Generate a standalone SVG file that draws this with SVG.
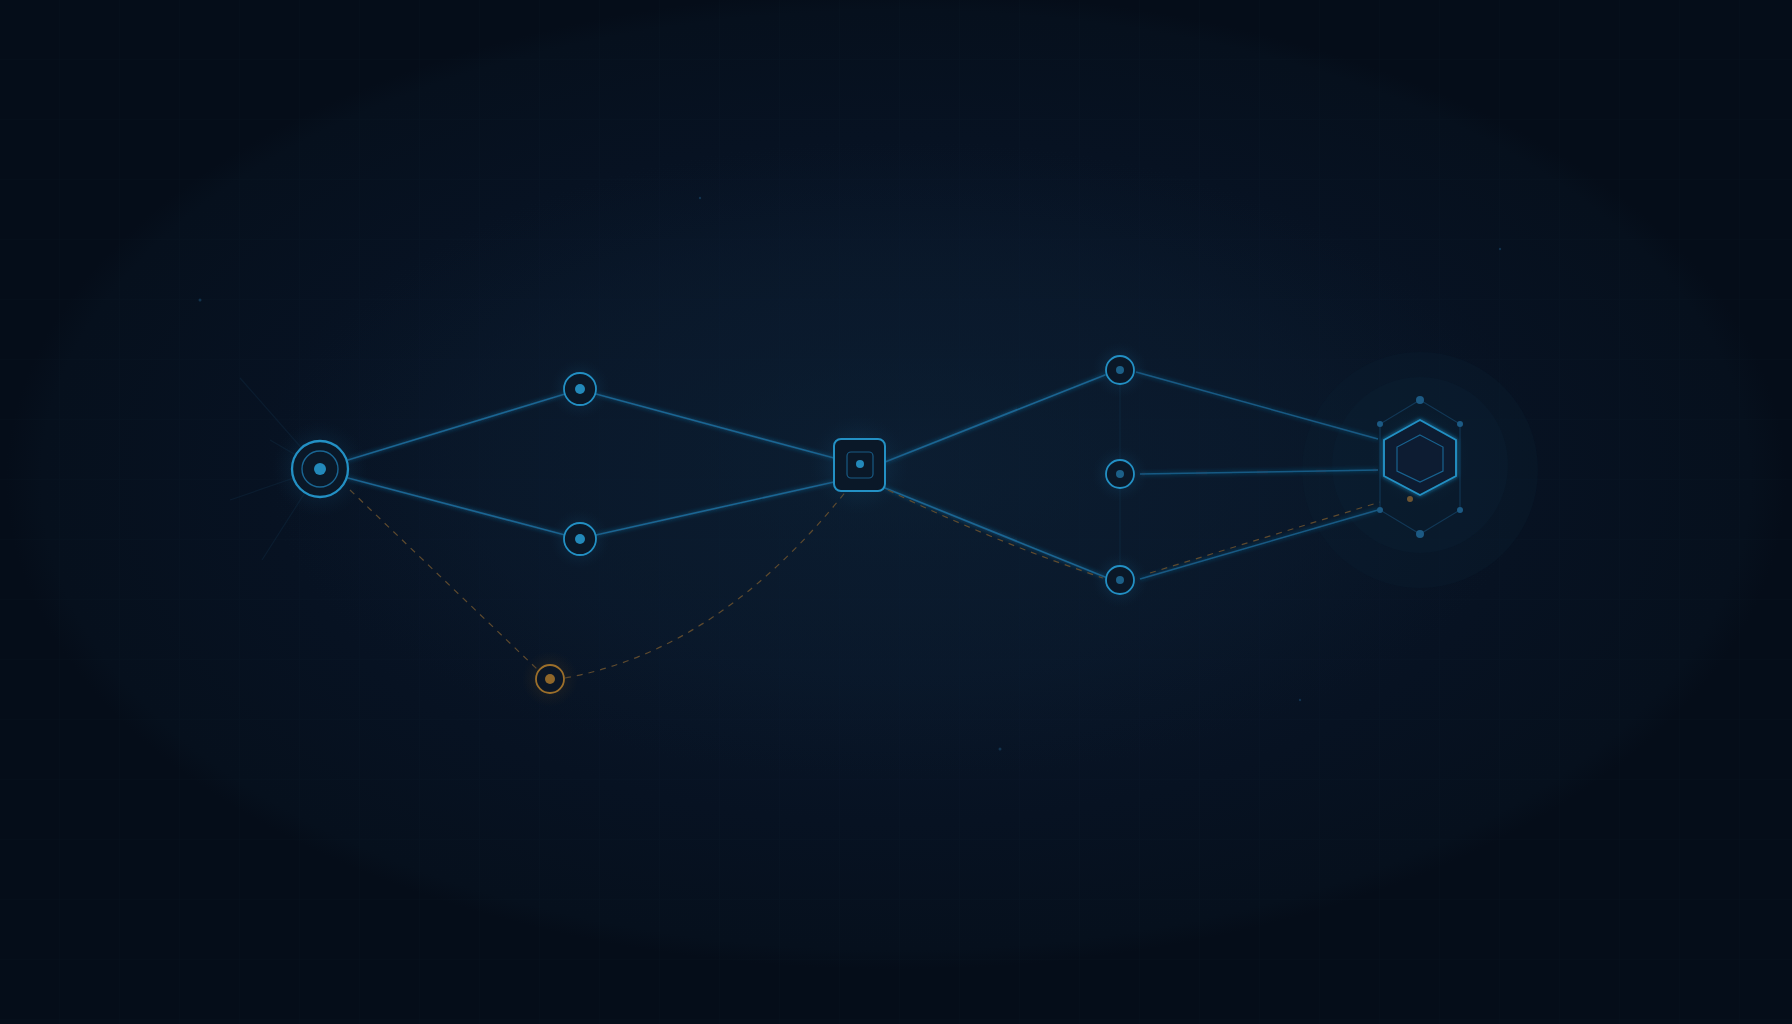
<svg xmlns="http://www.w3.org/2000/svg" width="1792" height="1024" viewBox="0 0 1792 1024">
<defs>
<radialGradient id="bg" cx="896" cy="480" r="890" gradientUnits="userSpaceOnUse" gradientTransform="translate(896 480) scale(1 0.55) translate(-896 -480)">
<stop offset="0" stop-color="#0a192b"/>
<stop offset="0.4" stop-color="#091628"/>
<stop offset="0.7" stop-color="#071222"/>
<stop offset="0.96" stop-color="#06101d"/>
<stop offset="1" stop-color="#050d19"/>
</radialGradient>
<radialGradient id="halo" cx="0.5" cy="0.5" r="0.5">
<stop offset="0" stop-color="#1a5f8c" stop-opacity="0.45"/>
<stop offset="0.5" stop-color="#14496d" stop-opacity="0.22"/>
<stop offset="1" stop-color="#0d2c45" stop-opacity="0"/>
</radialGradient>
<radialGradient id="haloO" cx="0.5" cy="0.5" r="0.5">
<stop offset="0" stop-color="#5a4526" stop-opacity="0.4"/>
<stop offset="1" stop-color="#3a2e1c" stop-opacity="0"/>
</radialGradient>
<radialGradient id="bigglow" cx="0.5" cy="0.5" r="0.5">
<stop offset="0" stop-color="#0d2136" stop-opacity="0.55"/>
<stop offset="0.7" stop-color="#0b1d30" stop-opacity="0.3"/>
<stop offset="1" stop-color="#0a1a2c" stop-opacity="0"/>
</radialGradient>
<pattern id="grid" width="60" height="60" patternUnits="userSpaceOnUse">
<path d="M60 0 V60 M0 60 H60" fill="none" stroke="#12304a" stroke-width="1"/>
</pattern>
<filter id="glow" x="-50%" y="-50%" width="200%" height="200%">
<feGaussianBlur stdDeviation="2" result="b"/>
<feMerge><feMergeNode in="b"/><feMergeNode in="SourceGraphic"/></feMerge>
</filter>
<style>
.link{fill:none;stroke:#1a6592;stroke-width:1.7;stroke-linecap:round}
.link2{fill:none;stroke:#185a84;stroke-width:1.5}
.dash{fill:none;stroke:#5e4a2e;stroke-width:1.2;stroke-dasharray:6 6}
.faint{fill:none;stroke:#102a40;stroke-width:1.2}
.ring{fill:#0a1828;stroke:#2390c4;stroke-width:1.8}
.dot{fill:#2389ba}
.frame{fill:none;stroke:#123856;stroke-width:1.1}
.fdot{fill:#1c5a84}
</style>
</defs>
<rect width="1792" height="1024" fill="url(#bg)"/>
<rect width="1792" height="1024" fill="url(#grid)" opacity="0.1"/>
<ellipse cx="900" cy="460" rx="640" ry="320" fill="url(#bigglow)"/>
<circle cx="1420" cy="470" r="118" fill="#0c2034" opacity="0.28"/>
<circle cx="1420" cy="465" r="88" fill="#0d2338" opacity="0.25"/>

<g id="specks" fill="#1a4a6a" opacity="0.6">
<circle cx="200" cy="300" r="1.5"/>
<circle cx="700" cy="198" r="1.2"/>
<circle cx="1000" cy="749" r="1.5"/>
<circle cx="1300" cy="700" r="1.2"/>
<circle cx="1500" cy="249" r="1.2"/>
</g>

<g id="connectors">
<g class="faint" opacity="0.45">
<line x1="320" y1="469" x2="240" y2="378"/>
<line x1="320" y1="469" x2="230" y2="500"/>
<line x1="320" y1="469" x2="262" y2="560"/>
<line x1="320" y1="469" x2="270" y2="440"/>
</g>
<line class="faint" x1="1120" y1="384" x2="1120" y2="566" opacity="0.7"/>
<g filter="url(#glow)">
<line class="link" x1="348" y1="460" x2="565" y2="394"/>
<line class="link" x1="348" y1="478" x2="565" y2="535"/>
<line class="link" x1="596" y1="394" x2="834" y2="458"/>
<line class="link" x1="596" y1="535" x2="834" y2="482"/>
<line class="link" x1="885" y1="462" x2="1105" y2="375"/>
<line class="link" x1="885" y1="488" x2="1105" y2="577"/>
<line class="link2" x1="1136" y1="372" x2="1378" y2="439"/>
<line class="link2" x1="1140" y1="474" x2="1378" y2="470"/>
<line class="link2" x1="1140" y1="579" x2="1378" y2="510"/>
</g>
<line class="dash" x1="350" y1="490" x2="538" y2="670"/>
<path class="dash" d="M565 678 Q720 650 847 490"/>
<path class="dash" d="M888 490 Q990 540 1103 578"/>
<line class="dash" x1="1150" y1="573" x2="1380" y2="502"/>
</g>

<g id="node-source">
<circle cx="320" cy="469" r="48" fill="url(#halo)"/>
<circle cx="320" cy="469" r="28" fill="#0a1828" stroke="#2390c4" stroke-width="2.3"/>
<circle cx="320" cy="469" r="18" fill="none" stroke="#1a6592" stroke-width="1.4"/>
<circle class="dot" cx="320" cy="469" r="6"/>
</g>

<g id="node-top">
<circle cx="580" cy="389" r="30" fill="url(#halo)"/>
<circle class="ring" cx="580" cy="389" r="16"/>
<circle class="dot" cx="580" cy="389" r="5"/>
</g>

<g id="node-bottom">
<circle cx="580" cy="539" r="30" fill="url(#halo)"/>
<circle class="ring" cx="580" cy="539" r="16"/>
<circle class="dot" cx="580" cy="539" r="5"/>
</g>

<g id="node-orange">
<circle cx="550" cy="679" r="28" fill="url(#haloO)"/>
<circle cx="550" cy="679" r="14" fill="#0a1626" stroke="#9c6f2a" stroke-width="1.8"/>
<circle cx="550" cy="679" r="5" fill="#8f672a"/>
</g>

<g id="node-hub">
<circle cx="859" cy="465" r="50" fill="url(#halo)"/>
<rect x="834" y="439" width="51" height="52" rx="7" fill="#0a1828" stroke="#2390c4" stroke-width="2"/>
<rect x="847" y="452" width="26" height="26" rx="4" fill="none" stroke="#185a84" stroke-width="1.2"/>
<circle class="dot" cx="860" cy="464" r="4"/>
</g>

<g id="node-r1">
<circle cx="1120" cy="370" r="28" fill="url(#halo)"/>
<circle class="ring" cx="1120" cy="370" r="14" stroke-width="1.6"/>
<circle cx="1120" cy="370" r="4" fill="#1c6088"/>
</g>

<g id="node-r2">
<circle cx="1120" cy="474" r="28" fill="url(#halo)"/>
<circle class="ring" cx="1120" cy="474" r="14" stroke-width="1.6"/>
<circle cx="1120" cy="474" r="4" fill="#1c6088"/>
</g>

<g id="node-r3">
<circle cx="1120" cy="580" r="28" fill="url(#halo)"/>
<circle class="ring" cx="1120" cy="580" r="14" stroke-width="1.6"/>
<circle cx="1120" cy="580" r="4" fill="#1c6088"/>
</g>

<g id="node-hex">
<polygon class="frame" points="1420,400 1460,424 1460,510 1420,534 1380,510 1380,424"/>
<circle cx="1420" cy="457" r="50" fill="url(#halo)" opacity="0.7"/>
<polygon points="1420,420 1456,440 1456,476 1420,495 1384,476 1384,440" fill="#0b1d30" stroke="#2390c4" stroke-width="1.9" filter="url(#glow)"/>
<polygon points="1420,435 1443,447 1443,471 1420,482 1397,471 1397,447" fill="none" stroke="#18628f" stroke-width="1.2"/>
<circle class="fdot" cx="1420" cy="400" r="4"/>
<circle class="fdot" cx="1460" cy="424" r="3"/>
<circle class="fdot" cx="1460" cy="510" r="3"/>
<circle class="fdot" cx="1420" cy="534" r="4"/>
<circle class="fdot" cx="1380" cy="510" r="3"/>
<circle class="fdot" cx="1380" cy="424" r="3"/>
<circle cx="1410" cy="499" r="3" fill="#6e5532"/>
</g>
</svg>
